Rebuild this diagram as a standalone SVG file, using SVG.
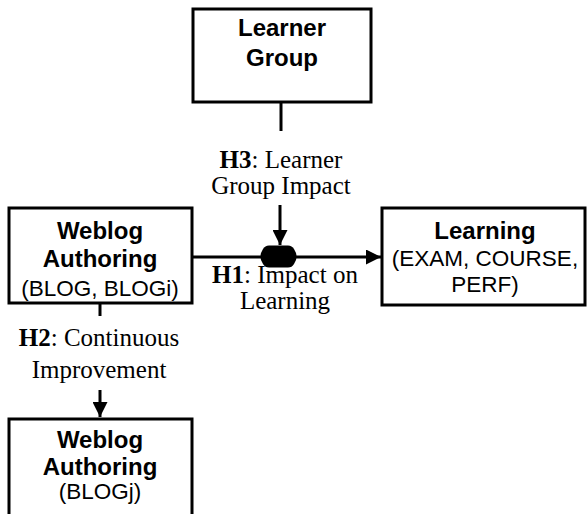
<svg xmlns="http://www.w3.org/2000/svg" width="588" height="514" viewBox="0 0 588 514">
<defs>
<style>
.box{fill:#fff;stroke:#000;stroke-width:3}
.t{font-family:"Liberation Sans",Arial,sans-serif;font-weight:bold;font-size:24px;text-anchor:middle;fill:#000}
.s{font-family:"Liberation Sans",Arial,sans-serif;font-size:22.5px;text-anchor:middle;fill:#000}
.l{font-family:"Liberation Serif","Times New Roman",serif;font-size:25px;text-anchor:middle;fill:#000}
.ln{stroke:#000;stroke-width:3;fill:none}
</style>
<marker id="ah" viewBox="0 0 10 10" refX="10" refY="5" markerWidth="5" markerHeight="5" markerUnits="strokeWidth" orient="auto">
<path d="M0,0 L10,5 L0,10 z" fill="#000"/>
</marker>
</defs>
<g id="connectors">
<line class="ln" x1="281" y1="102" x2="281" y2="131"/>
<line class="ln" x1="280" y1="205" x2="280" y2="245" marker-end="url(#ah)"/>
<line class="ln" x1="192" y1="257" x2="381" y2="257" marker-end="url(#ah)"/>
<line class="ln" x1="100" y1="303" x2="100" y2="316"/>
<line class="ln" x1="100" y1="390" x2="100" y2="417" marker-end="url(#ah)"/>
<path d="M269,245.5 L288,245.5 Q292,245.5 294,249 L296,253 Q297,256.5 296,260 L294,264 Q292,267.5 288,267.5 L269,267.5 Q265,267.5 263,264 L261,260 Q260,256.5 261,253 L263,249 Q265,245.5 269,245.5 z" fill="#000"/>
</g>
<g id="learner-group">
<rect class="box" x="193" y="9" width="178" height="93"/>
<text class="t" x="282" y="36">Learner</text>
<text class="t" x="282" y="66">Group</text>
</g>
<g id="weblog-authoring-i">
<rect class="box" x="9" y="208" width="183" height="95"/>
<text class="t" x="100" y="239">Weblog</text>
<text class="t" x="100" y="267">Authoring</text>
<text class="s" x="100" y="296">(BLOG, BLOGi)</text>
</g>
<g id="learning">
<rect class="box" x="382" y="208" width="203" height="97"/>
<text class="t" x="485" y="239">Learning</text>
<text class="s" x="485" y="266">(EXAM, COURSE,</text>
<text class="s" x="485" y="292">PERF)</text>
</g>
<g id="weblog-authoring-j">
<rect class="box" x="9" y="419" width="183" height="100"/>
<text class="t" x="100" y="448">Weblog</text>
<text class="t" x="100" y="475">Authoring</text>
<text class="s" x="100" y="499">(BLOGj)</text>
</g>
<g id="labels">
<text class="l" x="281" y="168"><tspan font-weight="bold">H3</tspan>: Learner</text>
<text class="l" x="281" y="194">Group Impact</text>
<text class="l" x="285" y="283"><tspan font-weight="bold">H1</tspan>: Impact on</text>
<text class="l" x="285" y="309">Learning</text>
<text class="l" x="99" y="346"><tspan font-weight="bold">H2</tspan>: Continuous</text>
<text class="l" x="99" y="378">Improvement</text>
</g>
</svg>
